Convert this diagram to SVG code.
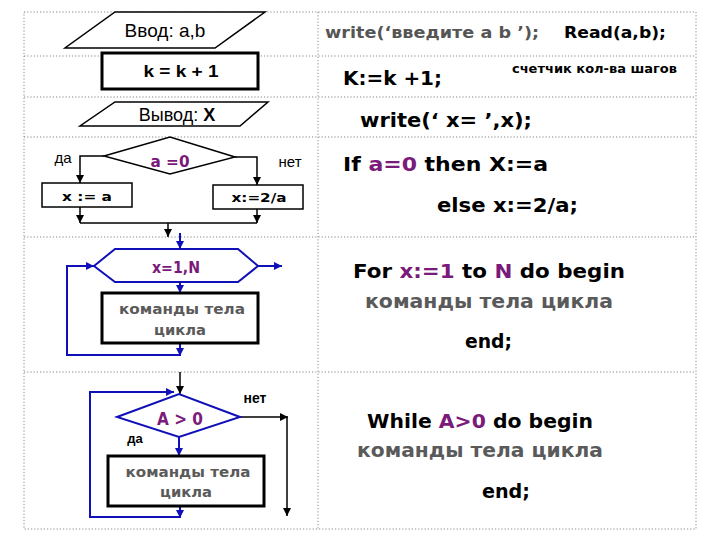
<svg xmlns="http://www.w3.org/2000/svg" width="720" height="540" viewBox="0 0 720 540">
<defs>
<marker id="ab" viewBox="0 0 10 10" refX="10" refY="5" markerWidth="8" markerHeight="8" markerUnits="userSpaceOnUse" orient="auto"><path d="M0,0 L10,5 L0,10 z" fill="#000"/></marker>
<marker id="au" viewBox="0 0 10 10" refX="10" refY="5" markerWidth="8" markerHeight="8" markerUnits="userSpaceOnUse" orient="auto"><path d="M0,0 L10,5 L0,10 z" fill="#1010b8"/></marker>
<style>
.grid{stroke:#888;stroke-width:1;stroke-dasharray:1.2,2;fill:none}
.shp{fill:#fff;stroke:#000;stroke-width:1.5}
.thk{fill:#fff;stroke:#000;stroke-width:3}
.bshp{fill:#fff;stroke:#1010b8;stroke-width:2}
.k{stroke:#000;stroke-width:1.5;fill:none}
.b{stroke:#1010b8;stroke-width:2;fill:none}
.ar{font-family:"Liberation Sans",Arial,sans-serif}
.cm{font-family:"DejaVu Sans","Liberation Sans",sans-serif;font-weight:bold}
.pu{fill:#7a1a7a}
.gr{fill:#5a5a5a}
</style>
</defs>
<g id="grid">
<rect class="grid" x="24" y="12" width="672" height="517"/>
<line class="grid" x1="318" y1="12" x2="318" y2="529"/>
<line class="grid" x1="24" y1="56" x2="696" y2="56"/>
<line class="grid" x1="24" y1="97" x2="696" y2="97"/>
<line class="grid" x1="24" y1="137" x2="696" y2="137"/>
<line class="grid" x1="24" y1="237" x2="696" y2="237"/>
<line class="grid" x1="24" y1="372" x2="696" y2="372"/>
</g>
<g id="connectors">
<polyline class="k" points="104,156 80,156 80,183" marker-end="url(#ab)"/>
<polyline class="k" points="235,157 257,157 257,185" marker-end="url(#ab)"/>
<line class="k" x1="80" y1="207" x2="80" y2="223" marker-end="url(#ab)"/>
<line class="k" x1="257" y1="209" x2="257" y2="223" marker-end="url(#ab)"/>
<line class="k" x1="80" y1="223" x2="257" y2="223"/>
<line class="k" x1="168" y1="223" x2="168" y2="237" marker-end="url(#ab)"/>
<line class="b" x1="180" y1="233" x2="180" y2="249" marker-end="url(#au)"/>
<line class="b" x1="258" y1="266" x2="282" y2="266" marker-end="url(#au)"/>
<line class="b" x1="180" y1="282" x2="180" y2="293" marker-end="url(#au)"/>
<line class="b" x1="180" y1="343" x2="180" y2="356" marker-end="url(#au)"/>
<polyline class="b" points="180,355 67,355 67,266 94,266" marker-end="url(#au)"/>
<line class="k" x1="180" y1="372" x2="180" y2="394" marker-end="url(#ab)"/>
<polyline class="b" points="180,517 90,517 90,392 174,392" marker-end="url(#au)"/>
<line class="b" x1="180" y1="506" x2="180" y2="518" marker-end="url(#au)"/>
<line class="b" x1="179" y1="437" x2="179" y2="456" marker-end="url(#au)"/>
<line class="k" x1="240" y1="417" x2="288" y2="417" marker-end="url(#ab)"/>
<line class="k" x1="287" y1="417" x2="287" y2="516" marker-end="url(#ab)"/>
</g>
<g id="input">
<polygon class="shp" points="115,12 265,12 215,48 65,48"/>
<text class="ar" x="165" y="37" font-size="19" text-anchor="middle">Ввод: a,b</text>
</g>
<g id="counter">
<rect class="thk" x="102" y="53" width="156" height="36"/>
<text class="ar" x="181" y="77" font-size="17" font-weight="bold" text-anchor="middle" textLength="75" lengthAdjust="spacingAndGlyphs">k = k + 1</text>
</g>
<g id="output">
<polygon class="shp" points="115,102 268,102 240,126 80,126"/>
<text class="ar" x="177" y="121" font-size="18" text-anchor="middle">Вывод: <tspan font-weight="bold">X</tspan></text>
</g>
<g id="cond">
<polygon class="shp" points="104,156 170,137 235,157 170,174"/>
<text class="cm pu" x="170" y="167" font-size="16" text-anchor="middle" textLength="39" lengthAdjust="spacingAndGlyphs">a =0</text>
<text class="ar" x="63" y="163" font-size="15" text-anchor="middle">да</text>
<text class="ar" x="290" y="167" font-size="15" text-anchor="middle">нет</text>
</g>
<g id="assign-a">
<rect class="shp" x="42" y="183" width="90" height="24"/>
<text class="cm" x="87" y="201" font-size="13" text-anchor="middle" textLength="50" lengthAdjust="spacingAndGlyphs">x := a</text>
</g>
<g id="assign-2a">
<rect class="shp" x="213" y="185" width="90" height="24"/>
<text class="cm" x="259" y="202" font-size="13" text-anchor="middle" textLength="55" lengthAdjust="spacingAndGlyphs">x:=2/a</text>
</g>
<g id="for-hex">
<polygon class="bshp" points="94,266 115,249 238,249 258,266 238,282 115,282"/>
<text class="cm pu" x="176" y="273" font-size="15" text-anchor="middle" textLength="48" lengthAdjust="spacingAndGlyphs">x=1,N</text>
</g>
<g id="for-body">
<rect class="thk" x="102" y="293" width="156" height="50"/>
<text class="cm gr" x="182" y="314" font-size="14" text-anchor="middle" textLength="126" lengthAdjust="spacingAndGlyphs">команды тела</text>
<text class="cm gr" x="180" y="335" font-size="14" text-anchor="middle" textLength="52" lengthAdjust="spacingAndGlyphs">цикла</text>
</g>
<g id="while-cond">
<polygon class="bshp" points="117,417 179,394 240,417 179,437"/>
<text class="cm pu" x="180" y="425" font-size="18" text-anchor="middle" textLength="46" lengthAdjust="spacingAndGlyphs">A &gt; 0</text>
<text class="ar" x="255" y="403" font-size="14" font-weight="bold" text-anchor="middle">нет</text>
<text class="ar" x="135" y="443" font-size="13" font-weight="bold" text-anchor="middle">да</text>
</g>
<g id="while-body">
<rect class="thk" x="108" y="456" width="156" height="50"/>
<text class="cm gr" x="188" y="477" font-size="14" text-anchor="middle" textLength="125" lengthAdjust="spacingAndGlyphs">команды тела</text>
<text class="cm gr" x="186" y="497" font-size="14" text-anchor="middle" textLength="52" lengthAdjust="spacingAndGlyphs">цикла</text>
</g>
<g id="code">
<text class="cm" x="325" y="38" font-size="15" font-weight="normal" fill="#555" textLength="214" lengthAdjust="spacingAndGlyphs">write(‘введите a  b ’);</text>
<text class="cm" x="564" y="38" font-size="16" textLength="102" lengthAdjust="spacingAndGlyphs">Read(a,b);</text>
<text class="cm" x="343" y="85" font-size="19" textLength="99" lengthAdjust="spacingAndGlyphs">K:=k +1;</text>
<text class="cm" x="512" y="73" font-size="12" font-weight="normal" textLength="165" lengthAdjust="spacingAndGlyphs">счетчик кол-ва шагов</text>
<text class="cm" x="360" y="127" font-size="19" textLength="172" lengthAdjust="spacingAndGlyphs">write(‘ x= ’,x);</text>
<text class="cm" x="343" y="171" font-size="20" textLength="205" lengthAdjust="spacingAndGlyphs">If <tspan class="pu">a=0</tspan> then X:=a</text>
<text class="cm" x="437" y="212" font-size="20" textLength="141" lengthAdjust="spacingAndGlyphs">else x:=2/a;</text>
<text class="cm" x="353" y="278" font-size="19" textLength="272" lengthAdjust="spacingAndGlyphs">For <tspan class="pu">x:=1</tspan> to <tspan class="pu">N</tspan> do begin</text>
<text class="cm gr" x="365" y="308" font-size="19" textLength="248" lengthAdjust="spacingAndGlyphs">команды тела цикла</text>
<text class="cm" x="465" y="348" font-size="19" textLength="47" lengthAdjust="spacingAndGlyphs">end;</text>
<text class="cm" x="367" y="428" font-size="19" textLength="226" lengthAdjust="spacingAndGlyphs">While <tspan class="pu">A&gt;0</tspan> do begin</text>
<text class="cm gr" x="357" y="457" font-size="19" textLength="246" lengthAdjust="spacingAndGlyphs">команды тела цикла</text>
<text class="cm" x="482" y="498" font-size="19" textLength="48" lengthAdjust="spacingAndGlyphs">end;</text>
</g>
</svg>
